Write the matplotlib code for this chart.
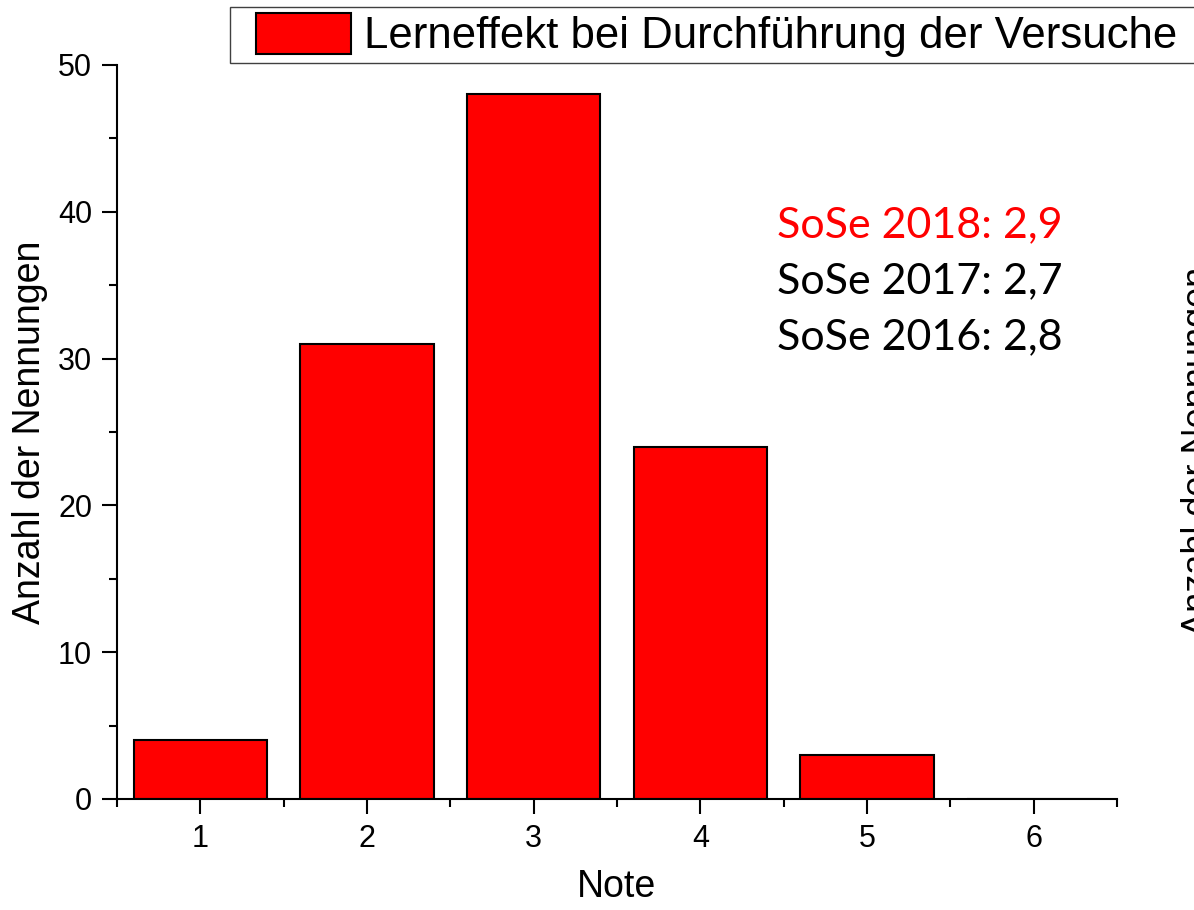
import matplotlib
matplotlib.use("Agg")
import matplotlib.pyplot as plt
from matplotlib.patches import Rectangle
from matplotlib.container import BarContainer
from matplotlib.legend_handler import HandlerPatch

# Daten: Notenverteilung
noten = [1, 2, 3, 4, 5, 6]
anzahl = [4, 31, 48, 24, 3, 0]
serie = "Lerneffekt bei Durchführung der Versuche"
mittelwerte = ["SoSe 2018: 2,9", "SoSe 2017: 2,7", "SoSe 2016: 2,8"]
farben_mw = ["#ff0000", "black", "black"]

plt.rcParams['font.family'] = ['Liberation Sans', 'DejaVu Sans']

W, H = 1194, 910
fig = plt.figure(figsize=(W / 100, H / 100), dpi=100)
ax = fig.add_axes([117 / W, 1 - 799 / H, 1000 / W, 734 / H])

ax.bar(noten, anzahl, width=0.8, color="#ff0000", edgecolor="black",
       linewidth=1.5, label=serie, zorder=2)

ax.set_xlim(0.5, 6.5)
ax.set_ylim(0, 50)
ax.set_xticks(noten)
ax.set_xticks([n - 0.5 for n in noten] + [6.5], minor=True)
ax.set_yticks(range(0, 51, 10))
ax.set_yticks(range(5, 50, 10), minor=True)

for s in ["top", "right"]:
    ax.spines[s].set_visible(False)
for s in ["left", "bottom"]:
    ax.spines[s].set_linewidth(1.5)

ax.tick_params(which="major", direction="out", length=11, width=1.5,
               labelsize=22, pad=7)
ax.tick_params(which="minor", direction="out", length=6, width=1.5)

ax.set_xlabel("Note", fontsize=27, labelpad=11)
ax.set_ylabel("Anzahl der Nennungen", fontsize=27, labelpad=7)


# Legende: Kästchen mit etwas Abstand links
def kaestchen(legend, orig_handle, xdescent, ydescent, width, height, fontsize):
    off = 14.4
    return Rectangle((-xdescent + off, -ydescent), width - off, height)


def kaestchen_stil(legend_handle, orig_handle):
    legend_handle.update_from(orig_handle[0])
    legend_handle.set_linewidth(1.5)


fs_leg = 31.5
fig.legend(loc="upper left", bbox_to_anchor=(230 / W, 0, 1.0, 1 - 7 / H),
           mode="expand", borderaxespad=0, borderpad=0.13, fontsize=fs_leg,
           handlelength=(96 + 20) / 44, handleheight=1.08, handletextpad=0.3,
           fancybox=False, framealpha=1, edgecolor="#404040",
           handler_map={BarContainer: HandlerPatch(patch_func=kaestchen,
                                                   update_func=kaestchen_stil)})
leg = fig.legends[0]
leg.get_frame().set_linewidth(1.0)

# Mittelwerte
for i, (txt, c) in enumerate(zip(mittelwerte, farben_mw)):
    fig.text(777 / W, 1 - (237 + 56 * i) / H, txt, color=c, fontsize=31,
             family=['Lato', 'DejaVu Sans'], ha="left", va="baseline")

# abgeschnittene Achsenbeschriftung des Nachbardiagramms
fig.text(1181 / W, 1 - 451 / H, "Anzahl der Nennungen", rotation=90,
         fontsize=26, ha="left", va="center")

fig.savefig("out.png", dpi=100)
